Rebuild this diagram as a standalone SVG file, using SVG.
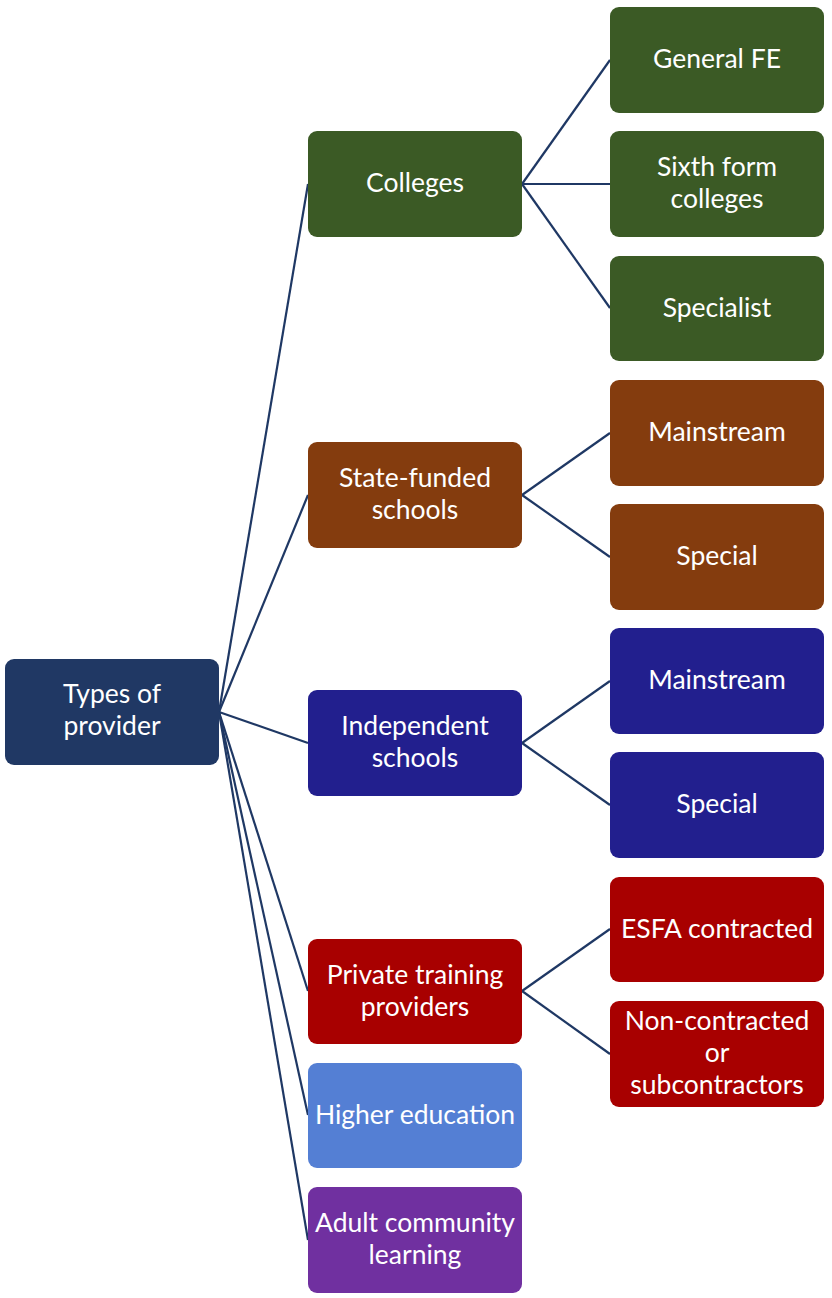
<svg xmlns="http://www.w3.org/2000/svg" width="832" height="1298" viewBox="0 0 832 1298">
<style>
.n rect{stroke:none}
.t{font-family:Lato,"Open Sans",sans-serif;font-size:26.5px;fill:#ffffff;text-anchor:middle}
.c line{stroke:#1f3864;stroke-width:2.2;fill:none}
.root{fill:#203864}.green{fill:#3b5a25}.brown{fill:#843c0e}.indigo{fill:#221f8e}.red{fill:#a80000}.lblue{fill:#547fd4}.purple{fill:#7030a0}
</style>
<rect width="832" height="1298" fill="#ffffff"/>
<g class="c" id="connectors">
<line x1="219" y1="712" x2="308" y2="184"/>
<line x1="219" y1="712" x2="308" y2="495"/>
<line x1="219" y1="712" x2="308" y2="743"/>
<line x1="219" y1="712" x2="308" y2="991"/>
<line x1="219" y1="712" x2="308" y2="1115"/>
<line x1="219" y1="712" x2="308" y2="1240"/>
<line x1="522" y1="184" x2="610" y2="60"/>
<line x1="522" y1="184" x2="610" y2="184"/>
<line x1="522" y1="184" x2="610" y2="308"/>
<line x1="522" y1="495" x2="610" y2="433"/>
<line x1="522" y1="495" x2="610" y2="557"/>
<line x1="522" y1="743" x2="610" y2="681"/>
<line x1="522" y1="743" x2="610" y2="805"/>
<line x1="522" y1="991" x2="610" y2="929"/>
<line x1="522" y1="991" x2="610" y2="1054"/>
</g>
<g class="n" id="root"><rect class="root" x="5" y="659" width="214" height="106" rx="9"/><text class="t" x="112" y="703">Types of</text><text class="t" x="112" y="735">provider</text></g>
<g class="n" id="colleges"><rect class="green" x="308" y="131" width="214" height="106" rx="9"/><text class="t" x="415" y="192">Colleges</text></g>
<g class="n" id="state"><rect class="brown" x="308" y="442" width="214" height="106" rx="9"/><text class="t" x="415" y="487">State-funded</text><text class="t" x="415" y="519">schools</text></g>
<g class="n" id="independent"><rect class="indigo" x="308" y="690" width="214" height="106" rx="9"/><text class="t" x="415" y="735">Independent</text><text class="t" x="415" y="767">schools</text></g>
<g class="n" id="private"><rect class="red" x="308" y="939" width="214" height="105" rx="9"/><text class="t" x="415" y="984">Private training</text><text class="t" x="415" y="1016">providers</text></g>
<g class="n" id="higher"><rect class="lblue" x="308" y="1063" width="214" height="105" rx="9"/><text class="t" x="415" y="1124">Higher education</text></g>
<g class="n" id="adult"><rect class="purple" x="308" y="1187" width="214" height="106" rx="9"/><text class="t" x="415" y="1232">Adult community</text><text class="t" x="415" y="1264">learning</text></g>
<g class="n" id="generalfe"><rect class="green" x="610" y="7" width="214" height="106" rx="9"/><text class="t" x="717" y="68">General FE</text></g>
<g class="n" id="sixthform"><rect class="green" x="610" y="131" width="214" height="106" rx="9"/><text class="t" x="717" y="176">Sixth form</text><text class="t" x="717" y="208">colleges</text></g>
<g class="n" id="specialist"><rect class="green" x="610" y="256" width="214" height="105" rx="9"/><text class="t" x="717" y="317">Specialist</text></g>
<g class="n" id="mainstream1"><rect class="brown" x="610" y="380" width="214" height="106" rx="9"/><text class="t" x="717" y="441">Mainstream</text></g>
<g class="n" id="special1"><rect class="brown" x="610" y="504" width="214" height="106" rx="9"/><text class="t" x="717" y="565">Special</text></g>
<g class="n" id="mainstream2"><rect class="indigo" x="610" y="628" width="214" height="106" rx="9"/><text class="t" x="717" y="689">Mainstream</text></g>
<g class="n" id="special2"><rect class="indigo" x="610" y="752" width="214" height="106" rx="9"/><text class="t" x="717" y="813">Special</text></g>
<g class="n" id="esfa"><rect class="red" x="610" y="877" width="214" height="105" rx="9"/><text class="t" x="717" y="938">ESFA contracted</text></g>
<g class="n" id="noncontracted"><rect class="red" x="610" y="1001" width="214" height="106" rx="9"/><text class="t" x="717" y="1030">Non-contracted</text><text class="t" x="717" y="1062">or</text><text class="t" x="717" y="1094">subcontractors</text></g>
</svg>
